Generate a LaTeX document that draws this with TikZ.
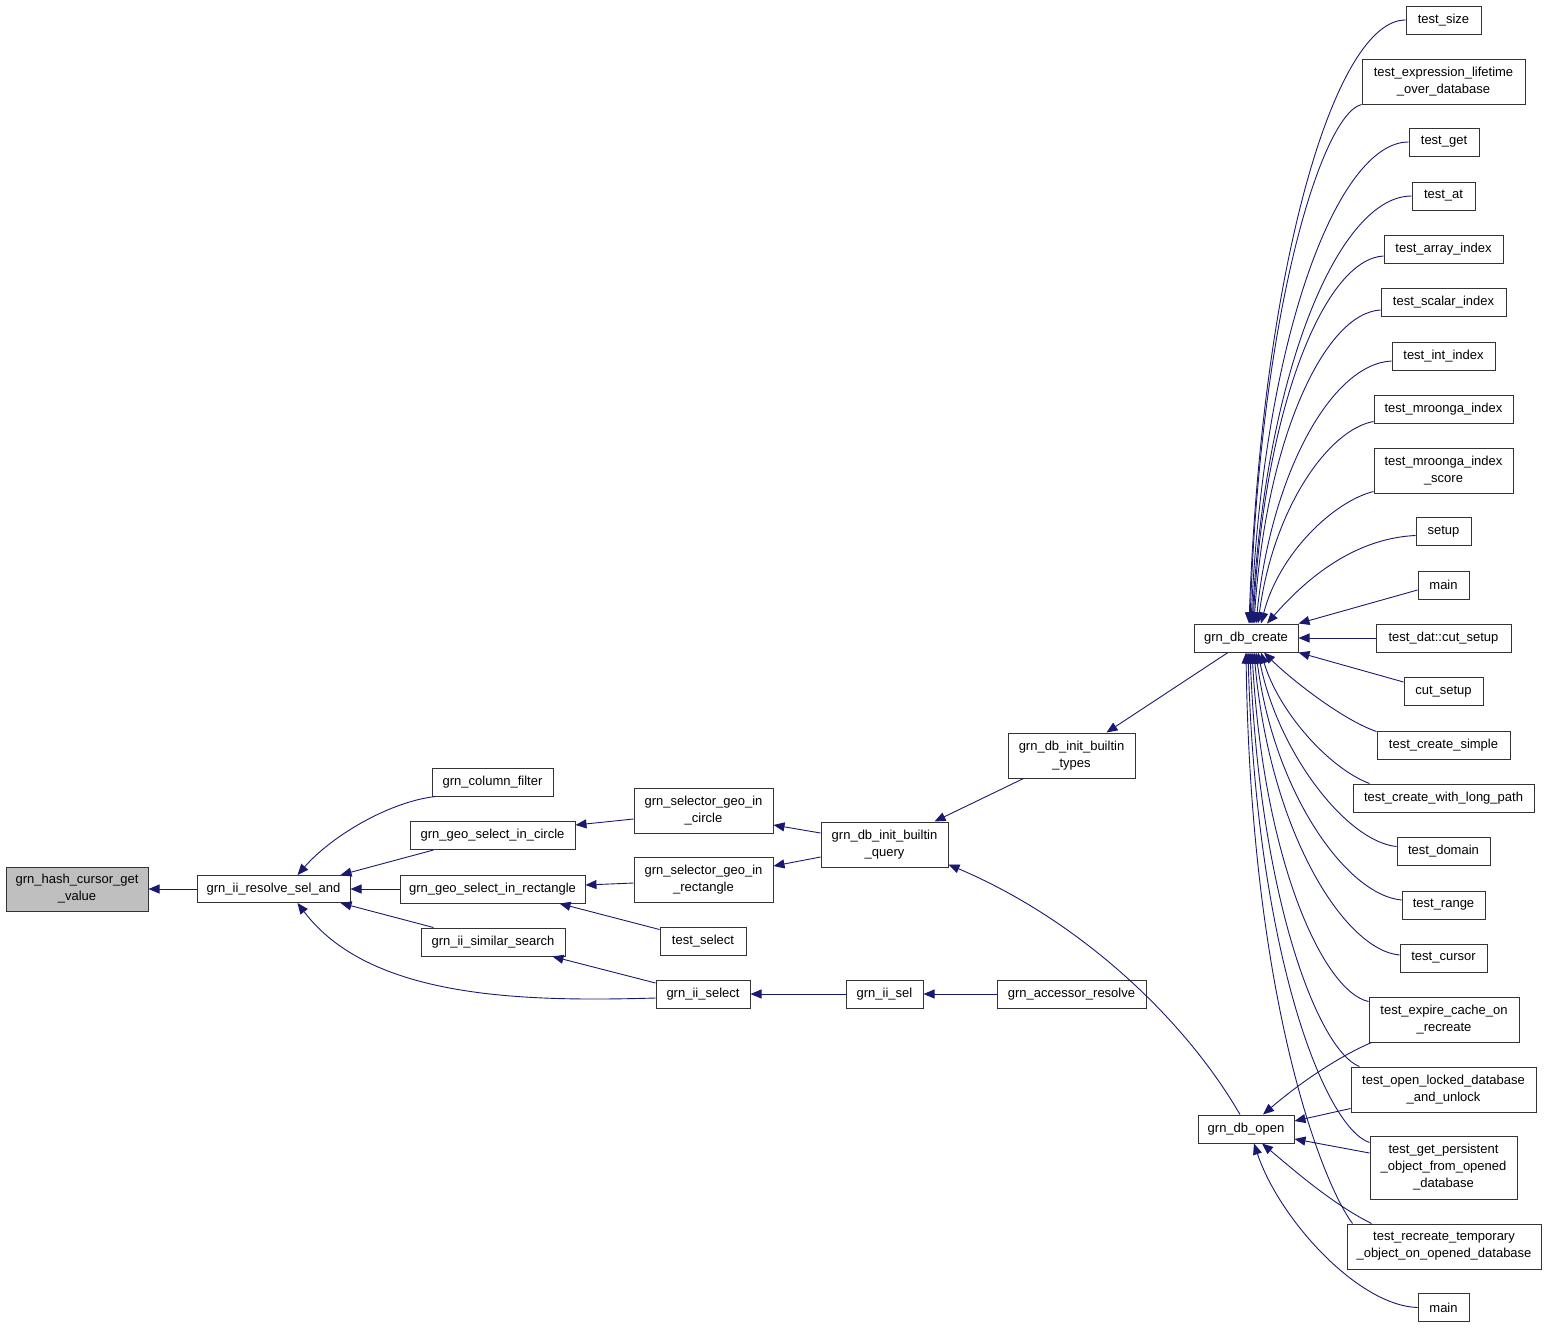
\documentclass[tikz,border=0pt]{standalone}
\usepackage{fontspec}
\setmainfont{Liberation Sans}
\usetikzlibrary{arrows.meta}
\definecolor{navyc}{HTML}{191970}
\begin{document}
\begin{tikzpicture}[x=1pt,y=-1pt,
 box/.style={draw=black!80, line width=1pt, fill=white, inner sep=0pt, align=center, font=\fontsize{13}{17}\selectfont},
 edge/.style={navyc, line width=0.9pt, -{Triangle[length=11pt,width=9pt]}},
]
\useasboundingbox (0,0) rectangle (1547,1328);
% left part
\node[box,fill=black!25,minimum width=142pt,minimum height=44pt] (hash) at (77,889) {grn\_hash\_cursor\_get\\\_value};
\node[box,minimum width=153pt,minimum height=27pt] (res) at (273.5,889) {grn\_ii\_resolve\_sel\_and};
\node[box,minimum width=121pt,minimum height=28pt] (cf) at (492.5,782) {grn\_column\_filter};
\node[box,minimum width=165pt,minimum height=28pt] (gsc) at (492.5,835.5) {grn\_geo\_select\_in\_circle};
\node[box,minimum width=185pt,minimum height=28pt] (gsr) at (492.5,889) {grn\_geo\_select\_in\_rectangle};
\node[box,minimum width=144pt,minimum height=28pt] (iss) at (493,942) {grn\_ii\_similar\_search};
\node[box,minimum width=139pt,minimum height=45pt] (sgc) at (703.5,810.5) {grn\_selector\_geo\_in\\\_circle};
\node[box,minimum width=139pt,minimum height=45pt] (sgr) at (703.5,879.5) {grn\_selector\_geo\_in\\\_rectangle};
\node[box,minimum width=86pt,minimum height=28pt] (tsel) at (703,941) {test\_select};
\node[box,minimum width=94pt,minimum height=28pt] (iisel) at (703,994) {grn\_ii\_select};
\node[box,minimum width=127pt,minimum height=45pt] (bq) at (884.5,844.5) {grn\_db\_init\_builtin\\\_query};
\node[box,minimum width=127pt,minimum height=45pt] (bt) at (1071.5,755.5) {grn\_db\_init\_builtin\\\_types};
\node[box,minimum width=77pt,minimum height=28pt] (iis) at (884.5,994) {grn\_ii\_sel};
\node[box,minimum width=149pt,minimum height=28pt] (acc) at (1071.5,994) {grn\_accessor\_resolve};
\node[box,minimum width=104pt,minimum height=28pt] (dbc) at (1246,638) {grn\_db\_create};
\node[box,minimum width=96pt,minimum height=28pt] (dbo) at (1246,1129) {grn\_db\_open};
% right column
\node[box,minimum width=75pt,minimum height=28pt] (tsize) at (1443.5,20) {test\_size};
\node[box,minimum width=163pt,minimum height=45pt] (texpr) at (1443.5,81.5) {test\_expression\_lifetime\\\_over\_database};
\node[box,minimum width=70pt,minimum height=28pt] (tget) at (1444,142) {test\_get};
\node[box,minimum width=63pt,minimum height=28pt] (tat) at (1443.5,196) {test\_at};
\node[box,minimum width=119pt,minimum height=28pt] (tarr) at (1443.5,249) {test\_array\_index};
\node[box,minimum width=125pt,minimum height=28pt] (tsca) at (1443.5,302) {test\_scalar\_index};
\node[box,minimum width=103pt,minimum height=28pt] (tint) at (1443.5,356) {test\_int\_index};
\node[box,minimum width=139pt,minimum height=28pt] (tmro) at (1443.5,409) {test\_mroonga\_index};
\node[box,minimum width=139pt,minimum height=45pt] (tmros) at (1443.5,470.5) {test\_mroonga\_index\\\_score};
\node[box,minimum width=55pt,minimum height=28pt] (setup) at (1443.5,531.5) {setup};
\node[box,minimum width=51pt,minimum height=28pt] (main1) at (1443.5,585) {main};
\node[box,minimum width=135pt,minimum height=28pt] (tdat) at (1443.5,638) {test\_dat::cut\_setup};
\node[box,minimum width=79pt,minimum height=28pt] (cuts) at (1443.5,691.5) {cut\_setup};
\node[box,minimum width=133pt,minimum height=28pt] (tcs) at (1443.5,745) {test\_create\_simple};
\node[box,minimum width=181pt,minimum height=28pt] (tcl) at (1443.5,798) {test\_create\_with\_long\_path};
\node[box,minimum width=93pt,minimum height=28pt] (tdom) at (1443.5,851.5) {test\_domain};
\node[box,minimum width=83pt,minimum height=28pt] (trange) at (1443.5,905) {test\_range};
\node[box,minimum width=87pt,minimum height=28pt] (tcur) at (1443.5,958) {test\_cursor};
\node[box,minimum width=150pt,minimum height=45pt] (texp) at (1444,1019.5) {test\_expire\_cache\_on\\\_recreate};
\node[box,minimum width=185pt,minimum height=45pt] (tol) at (1443.5,1089.5) {test\_open\_locked\_database\\\_and\_unlock};
\node[box,minimum width=147pt,minimum height=63pt] (tgp) at (1443.5,1167.5) {test\_get\_persistent\\\_object\_from\_opened\\\_database};
\node[box,minimum width=194pt,minimum height=45pt] (trec) at (1444,1246.5) {test\_recreate\_temporary\\\_object\_on\_opened\_database};
\node[box,minimum width=51pt,minimum height=28pt] (main2) at (1443.5,1307.5) {main};
% edges left
\draw[edge] (res.west) -- (hash.east);
\draw[edge] ([xshift=4pt]cf.south west) .. controls +(-45,5) and +(35,-40) .. ([xshift=24pt]res.north);
\draw[edge] ([xshift=24pt]gsc.south west) -- ([xshift=-10pt]res.north east);
\draw[edge] (gsr.west) -- (res.east);
\draw[edge] ([xshift=13pt]iss.north west) -- ([xshift=-10pt]res.south east);
\draw[edge] ([yshift=-4pt]iisel.west) .. controls +(-136,4) and +(72,95) .. ([xshift=24pt]res.south);
\draw[edge] ([yshift=11pt]iisel.west) -- ([xshift=-13pt]iss.south east);
\draw[edge] ([yshift=-8.5pt]sgc.west) -- ([yshift=10.5pt]gsc.east);
\draw[edge] ([yshift=-3.5pt]sgr.west) -- ([yshift=4pt]gsr.east);
\draw[edge] ([yshift=-3pt]tsel.north west) -- ([xshift=-26pt]gsr.south east);
\draw[edge] ([yshift=11.5pt]bq.west) -- ([yshift=-14.5pt]sgc.east);
\draw[edge] ([yshift=-12.5pt]bq.west) -- ([yshift=13.5pt]sgr.east);
\draw[edge] ([xshift=16pt]bt.south west) -- ([xshift=-14pt]bq.north east);
\draw[edge] ([xshift=-6pt]dbo.north) .. controls +(-55,-95) and +(132,56) .. ([yshift=3pt]bq.south east);
\draw[edge] (iis.west) -- (iisel.east);
\draw[edge] (acc.west) -- (iis.east);
\draw[edge] ([xshift=-18pt]dbc.south) -- ([xshift=-29pt]bt.north east);
% edges to grn_db_create (top)
\draw[edge] (tsize.west) .. controls +(-70,0) and +(13,-360) .. ([xshift=3pt]dbc.north);
\draw[edge] (texpr.south west) .. controls +(-40,10) and +(10,-310) .. ([xshift=4pt]dbc.north);
\draw[edge] (tget.west) .. controls +(-70,0) and +(13,-290) .. ([xshift=5pt]dbc.north);
\draw[edge] (tat.west) .. controls +(-72,0) and +(14,-255) .. ([xshift=6pt]dbc.north);
\draw[edge] ([yshift=-7pt]tarr.west) .. controls +(-58,3) and +(12,-220) .. ([xshift=7pt]dbc.north);
\draw[edge] ([yshift=-8pt]tsca.west) .. controls +(-56,3) and +(12,-185) .. ([xshift=8pt]dbc.north);
\draw[edge] ([yshift=-5pt]tint.west) .. controls +(-60,3) and +(15,-150) .. ([xshift=10pt]dbc.north);
\draw[edge] ([yshift=2pt]tmro.south west) .. controls +(-45,8) and +(15,-115) .. ([xshift=12pt]dbc.north);
\draw[edge] ([yshift=2pt]tmros.south west) .. controls +(-40,10) and +(18,-70) .. ([xshift=15pt]dbc.north);
\draw[edge] ([yshift=-4pt]setup.west) .. controls +(-65,3) and +(35,-40) .. ([xshift=21pt]dbc.north);
\draw[edge] ([yshift=-5pt]main1.west) -- (dbc.north east);
\draw[edge] (tdat.west) -- (dbc.east);
\draw[edge] ([yshift=-5pt]cuts.north west) -- (dbc.south east);
% edges to grn_db_create (bottom)
\draw[edge] ([yshift=-1pt]tcs.north west) .. controls +(-35,-12) and +(25,25) .. ([xshift=18pt]dbc.south);
\draw[edge] ([xshift=17pt]tcl.north west) .. controls +(-40,-15) and +(18,60) .. ([xshift=15pt]dbc.south);
\draw[edge] ([yshift=5pt]tdom.west) .. controls +(-50,-5) and +(20,100) .. ([xshift=12pt]dbc.south);
\draw[edge] ([yshift=5pt]trange.west) .. controls +(-55,-5) and +(18,140) .. ([xshift=10pt]dbc.south);
\draw[edge] ([yshift=3pt]tcur.west) .. controls +(-55,-5) and +(16,180) .. ([xshift=8pt]dbc.south);
\draw[edge] ([yshift=-5pt]texp.north west) .. controls +(-45,-10) and +(12,210) .. ([xshift=6pt]dbc.south);
\draw[edge] ([xshift=9pt]tol.north west) .. controls +(-40,-15) and +(10,250) .. ([xshift=4pt]dbc.south);
\draw[edge] ([yshift=-7pt]tgp.north west) .. controls +(-45,-15) and +(8,300) .. ([xshift=2pt]dbc.south);
\draw[edge] ([xshift=6pt]trec.north west) .. controls +(-30,-40) and +(5,350) .. (dbc.south);
% edges to grn_db_open
\draw[edge] ([xshift=3pt]texp.south west) .. controls +(-35,15) and +(35,-30) .. ([xshift=17pt]dbo.north);
\draw[edge] ([yshift=4pt]tol.south west) -- ([yshift=8pt]dbo.east);
\draw[edge] ([yshift=14.5pt]tgp.west) -- ([yshift=-10pt]dbo.east);
\draw[edge] ([xshift=25pt]trec.north west) .. controls +(-40,-20) and +(30,25) .. ([xshift=16pt]dbo.south);
\draw[edge] (main2.west) .. controls +(-60,-2) and +(25,75) .. ([xshift=8pt]dbo.south);
\end{tikzpicture}
\end{document}
